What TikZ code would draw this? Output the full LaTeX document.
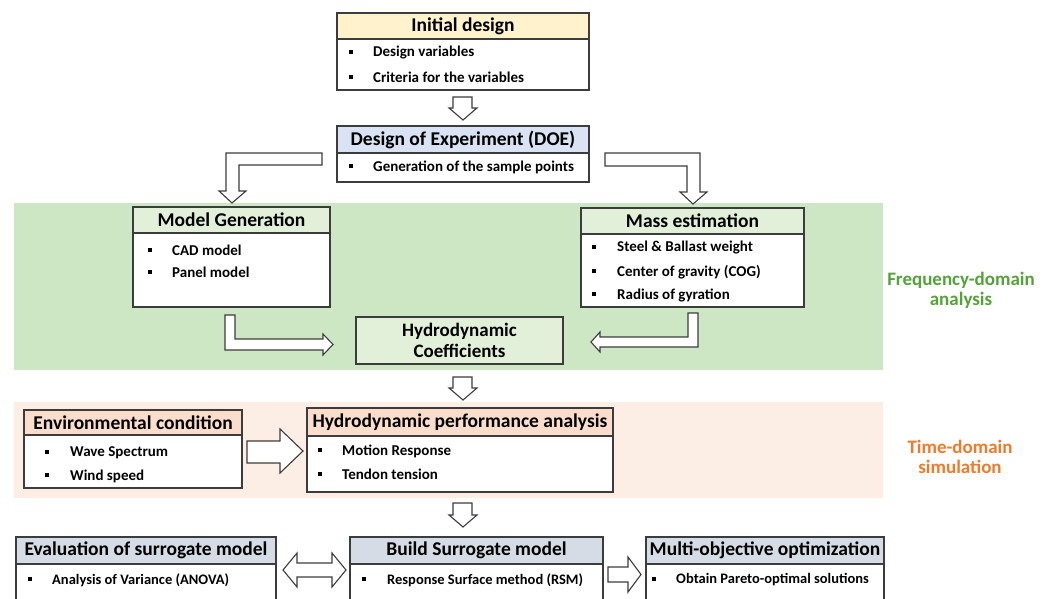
\documentclass[tikz,border=0pt]{standalone}
\usepackage{fontspec}
\setmainfont{Carlito}
\definecolor{edge}{HTML}{3C3C3C}
\definecolor{hyellow}{HTML}{FFF2CC}
\definecolor{hblue}{HTML}{DAE3F3}
\definecolor{greg}{HTML}{CDE7C4}
\definecolor{hgreen}{HTML}{E2F0D9}
\definecolor{oreg}{HTML}{FDEEE5}
\definecolor{horange}{HTML}{FBDDCB}
\definecolor{hgray}{HTML}{D6DCE5}
\definecolor{gtext}{HTML}{56A23A}
\definecolor{otext}{HTML}{F07A2A}
\tikzset{
  frame/.style={draw=edge, line width=1.3pt, inner sep=0pt, outer sep=0pt, anchor=north west},
  hdr/.style={frame, font=\bfseries\fontsize{19.5}{21}\selectfont, text=black},
  bodyb/.style={frame, fill=white},
  item/.style={anchor=west, inner sep=0pt, font=\bfseries\fontsize{15}{17}\selectfont},
  itemb/.style={item, font=\bfseries\fontsize{14.5}{17}\selectfont},
  blk/.style={draw=edge, fill=white, line width=1.1pt, line join=miter},
  region/.style={inner sep=0pt, outer sep=0pt, anchor=north west},
  side/.style={align=center, font=\bfseries\fontsize{19}{20}\selectfont},
}
\newcommand{\bul}[1]{\makebox[24pt][l]{\rule[0.2em]{4pt}{4pt}}#1}
\newcommand{\bulw}[1]{\makebox[25pt][l]{\rule[0.2em]{4pt}{4pt}}#1}
\begin{document}
\begin{tikzpicture}[x=1pt,y=-1pt]
\useasboundingbox (0,0) rectangle (1051,599);
\clip (0,0) rectangle (1051,599);
\fill[white] (0,0) rectangle (1051,599);
% regions
\node[region, fill=greg, minimum width=869pt, minimum height=167pt] (greenreg) at (14,203) {};
\node[region, fill=oreg, minimum width=869pt, minimum height=96pt] (orangereg) at (14,402) {};
\node[side, text=gtext] (freq) at (961,290) {Frequency-domain\\analysis};
\node[side, text=otext] (time) at (960,457) {Time-domain\\simulation};
% Initial design
\node[bodyb, minimum width=252pt, minimum height=51pt] (initB) at (337,39) {};
\node[hdr, fill=hyellow, minimum width=252pt, minimum height=26pt] (init) at (337,13) {Initial design};
\node[item] (i1) at (349,53) {\bul{Design variables}};
\node[item] (i2) at (349,77) {\bul{Criteria for the variables}};
% DOE
\node[bodyb, minimum width=252pt, minimum height=29pt] (doeB) at (337,153) {};
\node[hdr, fill=hblue, minimum width=252pt, minimum height=27pt] (doe) at (337,126) {Design of Experiment (DOE)};
\node[item] (d1) at (349,167) {\bul{Generation of the sample points}};
% Model generation
\node[bodyb, minimum width=197pt, minimum height=74pt] (mgB) at (133,233) {};
\node[hdr, fill=hgreen, minimum width=197pt, minimum height=26pt] (mg) at (133,207) {Model Generation};
\node[item] (m1) at (148,250) {\bul{CAD model}};
\node[item] (m2) at (148,272) {\bul{Panel model}};
% Mass estimation
\node[bodyb, minimum width=223pt, minimum height=73pt] (meB) at (581,234) {};
\node[hdr, fill=hgreen, minimum width=223pt, minimum height=26pt] (me) at (581,208) {Mass estimation};
\node[item] (e1) at (592,248) {\bulw{Steel \& Ballast weight}};
\node[item] (e2) at (592,272) {\bulw{Center of gravity (COG)}};
\node[item] (e3) at (592,295) {\bulw{Radius of gyration}};
% Hydrodynamic coefficients
\node[hdr, fill=hgreen, minimum width=207pt, minimum height=47pt, align=center, font=\bfseries\fontsize{19}{21}\selectfont] (hc) at (356,317) {Hydrodynamic\\Coefficients};
% Environmental condition
\node[bodyb, minimum width=218pt, minimum height=53pt] (envB) at (24,435) {};
\node[hdr, fill=horange, minimum width=218pt, minimum height=25pt] (env) at (24,410) {Environmental condition};
\node[item] (v1) at (45,453) {\bulw{Wave Spectrum}};
\node[item] (v2) at (45,476) {\bulw{Wind speed}};
% Hydrodynamic performance analysis
\node[bodyb, minimum width=306pt, minimum height=56pt] (hpB) at (307,436) {};
\node[hdr, fill=horange, minimum width=306pt, minimum height=28pt] (hp) at (307,408) {Hydrodynamic performance analysis};
\node[item] (h1) at (318,451) {\bul{Motion Response}};
\node[item] (h2) at (318,474) {\bul{Tendon tension}};
% bottom row
\node[bodyb, minimum width=260pt, minimum height=60pt] (evB) at (16,564) {};
\node[hdr, fill=hgray, minimum width=260pt, minimum height=27pt] (ev) at (16,537) {Evaluation of surrogate model};
\node[itemb] (b1) at (28,580) {\bul{Analysis of Variance (ANOVA)}};
\node[bodyb, minimum width=253pt, minimum height=60pt] (bsB) at (350,564) {};
\node[hdr, fill=hgray, minimum width=253pt, minimum height=27pt] (bs) at (350,537) {Build Surrogate model};
\node[itemb] (b2) at (362,580) {\bulw{Response Surface method (RSM)}};
\node[bodyb, minimum width=238pt, minimum height=60pt] (moB) at (646,564) {};
\node[hdr, fill=hgray, minimum width=238pt, minimum height=27pt] (mo) at (646,537) {Multi-objective optimization};
\node[itemb] (b3) at (652,580) {\bul{Obtain Pareto-optimal solutions}};
% block arrows
\draw[blk] (453,97) -- (472,97) -- (472,108) -- (477,108) -- (463,120) -- (449,108) -- (453,108) -- cycle;
\draw[blk] (322,153) -- (226,153) -- (226,191) -- (219,191) -- (232,203) -- (246,191) -- (239,191) -- (239,165) -- (322,165) -- cycle;
\draw[blk] (605,153) -- (700,153) -- (700,192) -- (707,192) -- (693,204) -- (680,192) -- (687,192) -- (687,166) -- (605,166) -- cycle;
\draw[blk] (225,315) -- (235,315) -- (235,339) -- (323,339) -- (323,334) -- (333,344.5) -- (323,355) -- (323,350) -- (225,350) -- cycle;
\draw[blk] (698,313) -- (698,347) -- (600,347) -- (600,352) -- (591,342) -- (600,332) -- (600,337) -- (688,337) -- (688,313) -- cycle;
\draw[blk] (453,377) -- (472,377) -- (472,388) -- (477,388) -- (463,400) -- (449,388) -- (453,388) -- cycle;
\draw[blk] (247,441) -- (280,441) -- (280,429) -- (303,451) -- (280,473) -- (280,463) -- (247,463) -- cycle;
\draw[blk] (453,503) -- (472,503) -- (472,515) -- (477,515) -- (463,527) -- (449,515) -- (453,515) -- cycle;
\draw[blk] (283,570) -- (297,553) -- (297,563) -- (332,563) -- (332,553) -- (346,570) -- (332,587) -- (332,577) -- (297,577) -- (297,587) -- cycle;
\draw[blk] (608,567) -- (628,567) -- (628,557) -- (641,574.5) -- (628,592) -- (628,582) -- (608,582) -- cycle;
\end{tikzpicture}
\end{document}
